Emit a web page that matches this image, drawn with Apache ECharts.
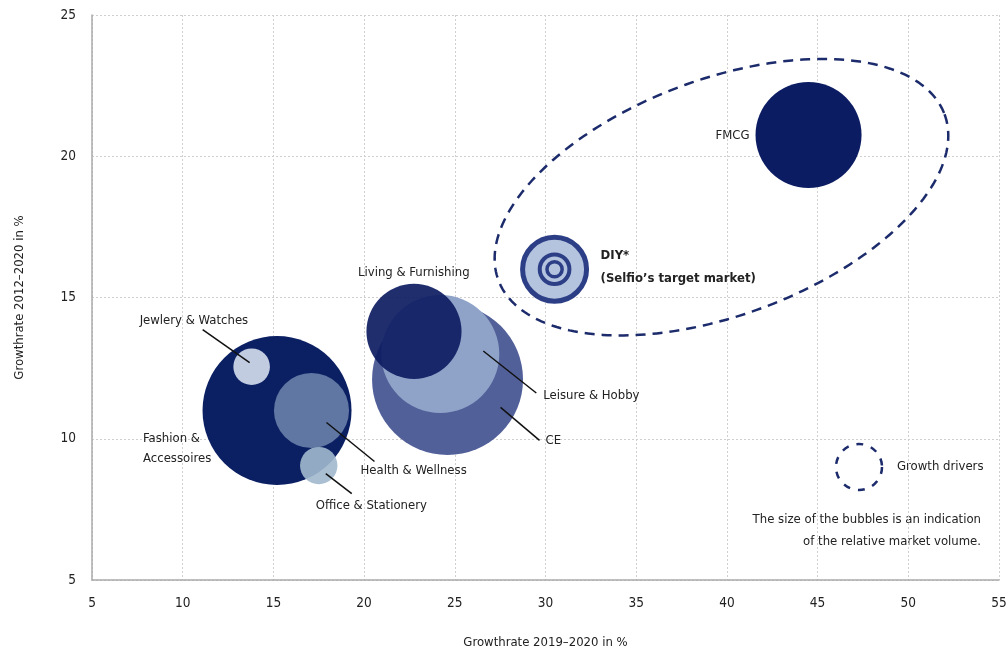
<!DOCTYPE html>
<html>
<head>
<meta charset="utf-8">
<script src="https://cdn.jsdelivr.net/npm/echarts@6/dist/echarts.min.js"></script>
<style>
  html, body { margin: 0; padding: 0; background: #fff; }
  #chart { width: 1007px; height: 651px; }
</style>
</head>
<body>
<div id="chart"></div>
<script>
// Market segments: growth 2019–2020 (x), growth 2012–2020 (y), relative market volume
const categories = ['Fashion & Accessoires', 'Health & Wellness', 'Jewlery & Watches', 'Office & Stationery',
                    'CE', 'Leisure & Hobby', 'Living & Furnishing', 'FMCG', 'DIY*'];
const labelTexts = ['Fashion &\nAccessoires', 'Health & Wellness', 'Jewlery & Watches', 'Office & Stationery',
                    'CE', 'Leisure & Hobby', 'Living & Furnishing', 'FMCG', 'DIY*\n(Selfio\u2019s target market)'];
const growth2019 = [15.2, 17.1, 13.8, 17.5, 24.6, 24.2, 22.75, 44.5, 30.5];
const growth2012 = [11.0, 11.0, 12.55, 9.05, 12.1, 13.0, 13.8, 20.75, 16.0];
const marketVolume = [55.5, 14.1, 3.35, 3.5, 57, 34.8, 22.6, 28.1, 11.9];
const xTicks = [5, 10, 15, 20, 25, 30, 35, 40, 45, 50, 55];
const yTicks = [5, 10, 15, 20, 25];
// growth-driver group outline (centre in axis units)
const growthDriverCentre = [39.7, 18.55];

const FONT = '"DejaVu Sans Condensed","DejaVu Sans",sans-serif';
const TEXT = '#222';
const NAVY = '#1c2b6b';

const bubbleColors = ['#0b1f63', '#5f77a2', '#c2cce1', '#a1b9cd', '#52609a', '#8fa3c8', '#0d1c62', '#0c1c62', '#b4c3de'];
const bubbleOpacity = [1, 1, 1, 0.9, 1, 1, 0.92, 1, 1];
const diameter = v => 20 * Math.sqrt(v);

// label placement relative to bubble centre (px): text anchor, optional leader line
const labelPlacement = {
  'Fashion & Accessoires': { text: [-134, 38] },
  'Health & Wellness':     { text: [49, 60], line: [[15, 12], [63, 51]] },
  'Jewlery & Watches':     { text: [-112, -46], line: [[-2, -4], [-49, -37]] },
  'Office & Stationery':   { text: [-3, 40], line: [[7, 8], [33, 28]] },
  'CE':                    { text: [98, 61], line: [[53, 28], [92, 61]] },
  'Leisure & Hobby':       { text: [103, 42], line: [[43, -3], [96, 39]] },
  'Living & Furnishing':   { text: [-56, -59] },
  'FMCG':                  { text: [-93, 1] },
  'DIY*':                  { text: [46, -2], bold: true }
};

const bubbleIdx = categories.map((_, i) => i).filter(i => categories[i] !== 'DIY*');
const diyIdx = categories.indexOf('DIY*');

const chart = echarts.init(document.getElementById('chart'), null, { renderer: 'canvas' });

const option = {
  animation: false,
  backgroundColor: '#fff',
  grid: { left: 92, right: 8, top: 15, bottom: 71, outerBoundsMode: 'none' },
  xAxis: {
    type: 'value', min: xTicks[0], max: xTicks[xTicks.length - 1], interval: 5,
    name: 'Growthrate 2019\u20132020 in %', nameLocation: 'middle', nameGap: 56,
    nameTextStyle: { fontFamily: FONT, fontSize: 13, color: TEXT },
    axisLine: { lineStyle: { color: '#aaa', width: 1.5 } },
    axisTick: { show: false },
    axisLabel: { fontFamily: FONT, fontSize: 13.5, color: TEXT, margin: 16 },
    splitLine: { show: true, lineStyle: { color: '#cfcfcf', type: [2, 2], width: 1 } }
  },
  yAxis: {
    type: 'value', min: yTicks[0], max: yTicks[yTicks.length - 1], interval: 5,
    name: 'Growthrate 2012\u20132020 in %', nameLocation: 'middle', nameGap: 66, nameRotate: 90,
    nameTextStyle: { fontFamily: FONT, fontSize: 13, color: TEXT },
    axisLine: { show: true, lineStyle: { color: '#aaa', width: 1.5 } },
    axisTick: { show: false },
    axisLabel: { fontFamily: FONT, fontSize: 13.5, color: TEXT, margin: 16 },
    splitLine: { show: true, lineStyle: { color: '#cfcfcf', type: [2, 2], width: 1 } }
  },
  series: [
    {
      // dashed outline around the growth drivers
      type: 'custom', z: 1, silent: true,
      data: [growthDriverCentre],
      renderItem: function (params, api) {
        const c = api.coord([api.value(0), api.value(1)]);
        const a = 238, b = 118, phi = 20.4 * Math.PI / 180;
        const pts = [];
        for (let k = 0; k <= 240; k++) {
          const t = 2 * Math.PI * k / 240;
          pts.push([
            c[0] + a * Math.cos(t) * Math.cos(phi) + b * Math.sin(t) * Math.sin(phi),
            c[1] - a * Math.cos(t) * Math.sin(phi) + b * Math.sin(t) * Math.cos(phi)
          ]);
        }
        return { type: 'polyline', shape: { points: pts },
                 style: { stroke: NAVY, lineWidth: 2.5, lineDash: [10, 7], fill: null } };
      }
    },
    {
      type: 'scatter', z: 2,
      data: bubbleIdx.map(i => ({
        name: categories[i],
        value: [growth2019[i], growth2012[i], marketVolume[i]],
        itemStyle: { color: bubbleColors[i], opacity: bubbleOpacity[i] }
      })),
      symbolSize: v => diameter(v[2])
    },
    {
      // target market bubble with concentric rings
      type: 'custom', z: 3,
      data: [[growth2019[diyIdx], growth2012[diyIdx], marketVolume[diyIdx]]],
      renderItem: function (params, api) {
        const c = api.coord([api.value(0), api.value(1)]);
        const r = diameter(api.value(2)) / 2;
        return {
          type: 'group',
          children: [
            { type: 'circle', shape: { cx: c[0], cy: c[1], r: r - 2.5 },
              style: { fill: bubbleColors[diyIdx], stroke: '#2c3f86', lineWidth: 5 } },
            { type: 'circle', shape: { cx: c[0], cy: c[1], r: r * 0.43 },
              style: { fill: null, stroke: '#2c3f86', lineWidth: 4 } },
            { type: 'circle', shape: { cx: c[0], cy: c[1], r: r * 0.22 },
              style: { fill: null, stroke: '#2c3f86', lineWidth: 3.5 } }
          ]
        };
      }
    },
    {
      // category labels with leader lines
      type: 'custom', z: 4, silent: true,
      data: categories.map((n, i) => [growth2019[i], growth2012[i], i]),
      renderItem: function (params, api) {
        const c = api.coord([api.value(0), api.value(1)]);
        const i = api.value(2);
        const p = labelPlacement[categories[i]];
        const children = [];
        if (p.line) {
          children.push({ type: 'line',
            shape: { x1: c[0] + p.line[0][0], y1: c[1] + p.line[0][1], x2: c[0] + p.line[1][0], y2: c[1] + p.line[1][1] },
            style: { stroke: '#111', lineWidth: 1.5 } });
        }
        children.push({ type: 'text',
          style: { text: labelTexts[i], x: c[0] + p.text[0], y: c[1] + p.text[1],
                   align: 'left', verticalAlign: 'middle', fill: TEXT,
                   fontFamily: FONT, fontSize: 13, lineHeight: p.bold ? 23 : 20,
                   fontWeight: p.bold ? 'bold' : 'normal' } });
        return { type: 'group', children: children };
      }
    }
  ],
  graphic: [
    { type: 'circle', shape: { cx: 859, cy: 467, r: 23 },
      style: { fill: null, stroke: NAVY, lineWidth: 2.5, lineDash: [7, 8] } },
    { type: 'text', style: { text: 'Growth drivers', x: 897, y: 467, verticalAlign: 'middle',
      fill: TEXT, fontFamily: FONT, fontSize: 13 } },
    { type: 'text', style: { text: 'The size of the bubbles is an indication\nof the relative market volume.',
      x: 981, y: 531, align: 'right', verticalAlign: 'middle', lineHeight: 22,
      fill: TEXT, fontFamily: FONT, fontSize: 13 } }
  ]
};

chart.setOption(option);
</script>
</body>
</html>
